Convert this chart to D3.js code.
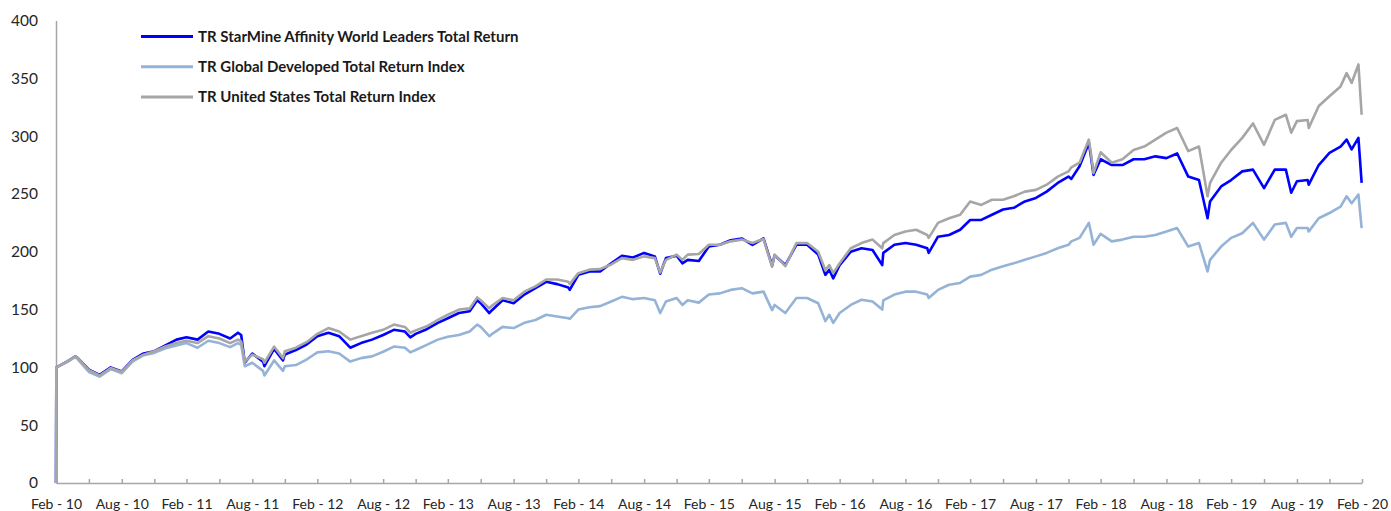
<!DOCTYPE html>
<html>
<head>
<meta charset="utf-8">
<script src="https://cdn.jsdelivr.net/npm/d3@7"></script>
<style>
  body { margin: 0; background: #fff; }
  text { font-family: Lato, "Open Sans", sans-serif; }
</style>
</head>
<body>
<svg id="chart" width="1391" height="511"></svg>
<script>
// month-end readings plus a few extra dates at the sharp moves
const dates = [
  "2010-02-28","2010-03-01","2010-03-31","2010-04-23","2010-04-30","2010-05-31","2010-06-30","2010-07-31","2010-08-31","2010-09-30","2010-10-31","2010-11-30","2010-12-31",
  "2011-01-31","2011-02-28","2011-03-31","2011-04-30","2011-05-31","2011-06-30","2011-07-22","2011-07-31","2011-08-10","2011-08-31","2011-09-30","2011-10-04","2011-10-31","2011-11-25","2011-11-30","2011-12-31",
  "2012-01-31","2012-02-29","2012-03-31","2012-04-30","2012-05-31","2012-06-30","2012-07-31","2012-08-31","2012-09-30","2012-10-31","2012-11-15","2012-11-30","2012-12-31",
  "2013-01-31","2013-02-28","2013-03-31","2013-04-30","2013-05-21","2013-05-31","2013-06-24","2013-06-30","2013-07-31","2013-08-31","2013-09-30","2013-10-31","2013-11-30","2013-12-31",
  "2014-01-31","2014-02-04","2014-02-28","2014-03-31","2014-04-30","2014-05-31","2014-06-30","2014-07-31","2014-08-31","2014-09-30","2014-10-15","2014-10-31","2014-11-30","2014-12-16","2014-12-31",
  "2015-01-31","2015-02-28","2015-03-31","2015-04-30","2015-05-31","2015-06-30","2015-07-31","2015-08-24","2015-08-31","2015-09-30","2015-10-31","2015-11-30","2015-12-31",
  "2016-01-20","2016-01-31","2016-02-11","2016-02-29","2016-03-31","2016-04-30","2016-05-31","2016-06-27","2016-06-30","2016-07-31","2016-08-31","2016-09-30","2016-10-31","2016-11-04","2016-11-30","2016-12-31",
  "2017-01-31","2017-02-28","2017-03-31","2017-04-30","2017-05-31","2017-06-30","2017-07-31","2017-08-31","2017-09-30","2017-10-31","2017-11-30","2017-12-08","2017-12-31",
  "2018-01-26","2018-01-31","2018-02-08","2018-02-28","2018-03-31","2018-04-30","2018-05-31","2018-06-30","2018-07-31","2018-08-31","2018-09-30","2018-10-31","2018-11-30","2018-12-24","2018-12-31",
  "2019-01-31","2019-02-28","2019-03-31","2019-04-30","2019-05-31","2019-06-30","2019-07-31","2019-08-15","2019-08-31","2019-09-30","2019-10-03","2019-10-31","2019-11-30","2019-12-31",
  "2020-01-17","2020-01-31","2020-02-19","2020-02-28"
];

const starmine = [
  0,100,105,109.5,108,98,93.5,100,96.5,106.5,112,114,119,
  124,126,124,131,129,125,130,128,104,112,105,101,116,106,111,115,
  120,127,130,127,117,121,124,128,132.5,131,126,129,133,
  138.5,142.5,147,148.5,158,155.5,147,149,158,155.5,163,168.5,174,172,
  169,167,180,183,183,190,196.5,195,199,196,181,194.5,196.5,190,193,
  192,204.5,206,210,211.5,206,211.5,188,197,188.5,206,206,197.5,
  180,184.5,177,188.5,200,203,201.5,188.5,199,206,207.5,206,203,199,213,214.5,
  219,227.5,227.5,232,236.5,238,243.5,246.5,252,259.5,265,263,274,
  294,284,266.5,280,275,275,280,280,282.5,281,285,265,262,229,243.5,
  256.5,262,269.5,271,255,271,271,251,261,262,258,275,285.5,291,
  297,288.5,298.5,259.5
];

const globalDev = [
  0,100,104.5,109,107,96,92,98.5,95,105,110.5,112.5,116.5,
  119,121,117,123,121,117.5,121,119.5,101,104,97,93,106,97,101,102,
  107,113,114,112,105,108,109.5,113.5,118,117,113,115,119.5,
  124,126.5,128,131,137,135,127,128.5,135,134,138.5,141,145.5,144,
  142.5,142,150,152,153,157,161,159,160,158,147,157,160,154,158,
  156,163,164,167,168.5,164,165.5,149.5,154,147,160,160,155.5,
  140,145.5,138.5,147,154,158.5,157,150,158,163,165.5,165.5,163,160,167,171.5,
  173,178.5,180,184.5,187.5,190,193,196,199,203,206,209,212,
  225,218,206,215.5,209,210.5,213,213,214.5,217.5,220.5,204.5,207.5,183,193,
  204.5,212,216,225,210.5,223.5,225,213,220.5,220.5,217.5,229,233.5,239,
  248,242,249.5,220.5
];

const usIndex = [
  0,100,105,109.5,108,97.5,93,99.5,96,106,111,114,118,
  121,123,121,127,125,121,124,122.5,105,111,107,104,118,108,114,117,
  122,129,134,131,124,127,130,132.5,137,135,130,132,135.5,
  141,145.5,150,151,160.5,158,151,153,160,158,165.5,170,176,176,
  174,172,181.5,184.5,185,189,194.5,193,196,194.5,182,193,197.5,193,197.5,
  198,206,206,209,210.5,207.5,211,187,197.5,187.5,207.5,207.5,200,
  184,188.5,181.5,190,203,207.5,210.5,203,207.5,214.5,217.5,219,214.5,212,225,229,
  232,243.5,240.5,245,245,248,252,253.5,258,265,269.5,273,277,
  297,287,268,286,277,280,288,291,297,303,307,287,291,248,259.5,
  277,288,298.5,311,292.5,314,318.5,303,313,314,307,326,334.5,343,
  354.5,346,362,318.5
];

const seriesNames = [
  "TR StarMine Affinity World Leaders Total Return",
  "TR Global Developed Total Return Index",
  "TR United States Total Return Index"
];
const seriesColors = ["#0000ff", "#95b3d7", "#a6a6a6"];

const xLabels = [
  "Feb - 10","Aug - 10","Feb - 11","Aug - 11","Feb - 12","Aug - 12","Feb - 13","Aug - 13",
  "Feb - 14","Aug - 14","Feb - 15","Aug - 15","Feb - 16","Aug - 16","Feb - 17","Aug - 17",
  "Feb - 18","Aug - 18","Feb - 19","Aug - 19","Feb - 20"
];
const yTicks = [0, 50, 100, 150, 200, 250, 300, 350, 400];

const svg = d3.select("#chart");
const margin = { top: 20.5, right: 29, bottom: 28, left: 56 };
const width = +svg.attr("width") - margin.left - margin.right;
const height = +svg.attr("height") - margin.top - margin.bottom;

const parse = d3.timeParse("%Y-%m-%d");
const when = dates.map(parse);

const x = d3.scaleTime()
  .domain([new Date(2010, 1, 28), new Date(2020, 1, 29)])
  .range([0, width]);
const y = d3.scaleLinear().domain([0, 400]).range([height, 0]);

const g = svg.append("g").attr("transform", `translate(${margin.left},${margin.top})`);

// quarterly ticks on month ends, label every second one
const xTicks = d3.range(41).map(i => d3.timeDay.offset(d3.timeMonth.offset(new Date(2010, 2, 1), 3 * i), -1));

const xAxis = g.append("g")
  .attr("transform", `translate(0,${height})`)
  .call(d3.axisBottom(x)
    .tickValues(xTicks)
    .tickSizeInner(-4)
    .tickSizeOuter(0)
    .tickPadding(16)
    .tickFormat((d, i) => i % 2 === 0 ? xLabels[i / 2] : ""));
xAxis.selectAll("path, line").attr("stroke", "#a6a6a6").attr("stroke-width", 1.5);
xAxis.selectAll("text").attr("font-size", 14).attr("fill", "#262626")
  .style("font-family", "Lato, sans-serif");

const yAxis = g.append("g")
  .call(d3.axisLeft(y).tickValues(yTicks).tickSize(0).tickPadding(18));
yAxis.select(".domain").attr("stroke", "#a6a6a6").attr("stroke-width", 1.5);
yAxis.selectAll("text").attr("font-size", 15.5).attr("fill", "#262626")
  .style("font-family", "Lato, sans-serif");

const line = d3.line()
  .x(d => x(d.date))
  .y(d => y(d.v));

[starmine, globalDev, usIndex].forEach((vals, k) => {
  const pts = vals.map((v, i) => ({ date: when[i], v: v }));
  g.append("path")
    .datum(pts)
    .attr("fill", "none")
    .attr("stroke", seriesColors[k])
    .attr("stroke-width", 2.6)
    .attr("stroke-linejoin", "round")
    .attr("d", line);
});

// legend
const legend = svg.append("g");
seriesNames.forEach((name, k) => {
  const ly = 36.5 + k * 30.2;
  legend.append("line")
    .attr("x1", 141).attr("x2", 193)
    .attr("y1", ly).attr("y2", ly)
    .attr("stroke", seriesColors[k])
    .attr("stroke-width", 3);
  legend.append("text")
    .attr("x", 198).attr("y", ly)
    .attr("dy", "0.35em")
    .attr("font-size", 15)
    .attr("font-weight", "bold")
    .attr("fill", "#1a1a1a")
    .text(name);
});
</script>
</body>
</html>
